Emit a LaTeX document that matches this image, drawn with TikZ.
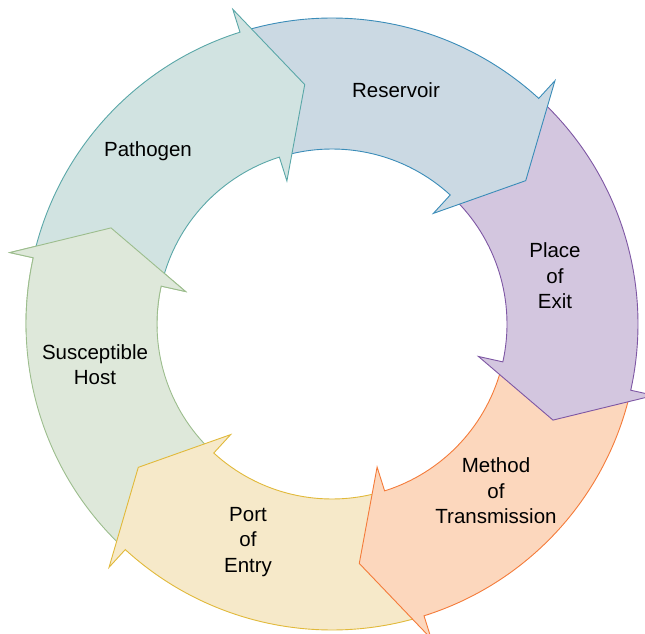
\documentclass[tikz,border=0pt]{standalone}
\usepackage{fontspec}
\setmainfont{Liberation Sans}
\definecolor{patF}{HTML}{D1E3E1}\definecolor{patD}{HTML}{5AA7A8}
\definecolor{resF}{HTML}{CBD9E3}\definecolor{resD}{HTML}{3A8CB8}
\definecolor{plaF}{HTML}{D3C6DF}\definecolor{plaD}{HTML}{7E57A4}
\definecolor{metF}{HTML}{FCD7BD}\definecolor{metD}{HTML}{F47B3A}
\definecolor{porF}{HTML}{F6E9C9}\definecolor{porD}{HTML}{E1B93A}
\definecolor{hosF}{HTML}{DEE8DA}\definecolor{hosD}{HTML}{9CBD8D}
\newcommand{\cyclearrow}[3]{%
  \draw[arrowpart, fill=#2, draw=#3]
    (#1+70:306) arc[start angle=#1+70, end angle=#1+11, radius=306]
    -- (#1+11:330) -- (#1:241) -- (#1+11:150) -- (#1+11:175)
    arc[start angle=#1+11, end angle=#1+70, radius=175] -- cycle;}
\tikzset{
  arrowpart/.style={line width=0.9pt, line join=miter},
  lbl/.style={align=center, font=\fontsize{20.5}{25.5}\selectfont, inner sep=0pt}
}
\begin{document}
\begin{tikzpicture}[x=1pt,y=1pt]
\useasboundingbox (0,0) rectangle (645,633);
\clip (0,0) rectangle (645,633);
\begin{scope}[shift={(332,309)}]
  \cyclearrow{156.5}{hosF}{hosD}
  \cyclearrow{-143.5}{porF}{porD}
  \cyclearrow{-83.5}{metF}{metD}
  \cyclearrow{-23.5}{plaF}{plaD}
  \cyclearrow{36.5}{resF}{resD}
  \cyclearrow{96.5}{patF}{patD}
  \begin{scope}
    \clip (0,0) -- (146.5:400) -- (160:400) -- (181.5:400) -- cycle;
    \cyclearrow{156.5}{hosF}{hosD}
  \end{scope}
\end{scope}
\node[lbl] (reservoir) at (396,543) {Reservoir};
\node[lbl] (pathogen) at (148,482) {Pathogen};
\node[lbl] (exit) at (555,357) {Place\\of\\Exit};
\node[lbl] (method) at (496,142) {Method\\of\\Transmission};
\node[lbl] (port) at (248,91) {Port\\of\\Entry};
\node[lbl] (host) at (95,268.5) {Susceptible\\Host};
\end{tikzpicture}
\end{document}
